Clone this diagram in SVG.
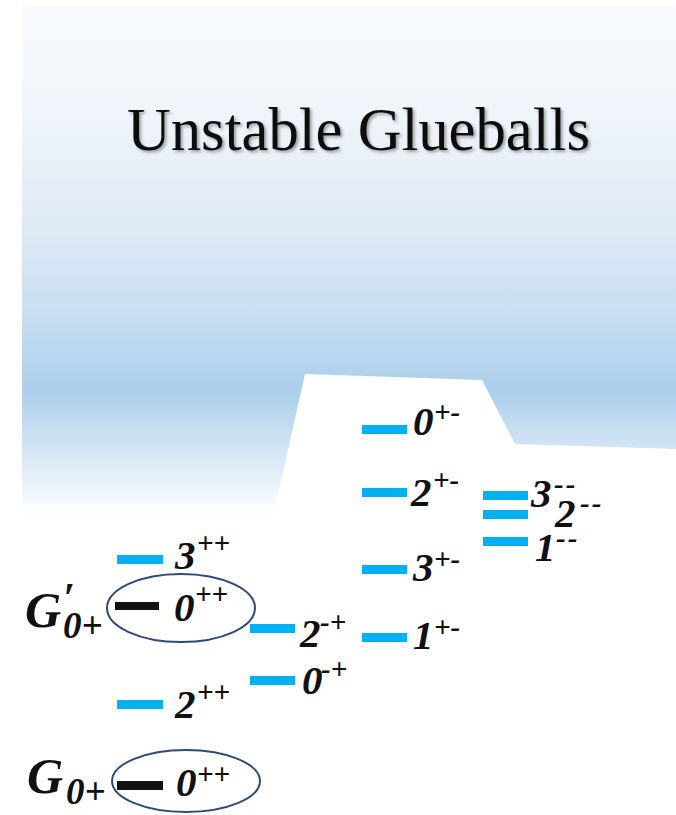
<svg xmlns="http://www.w3.org/2000/svg" width="676" height="815" viewBox="0 0 676 815">
<defs>
<linearGradient id="bg" x1="0" y1="5" x2="0" y2="515" gradientUnits="userSpaceOnUse">
<stop offset="0" stop-color="#f9fbfd"/>
<stop offset="0.2" stop-color="#f1f5fa"/>
<stop offset="0.45" stop-color="#dde9f6"/>
<stop offset="0.62" stop-color="#c6ddf1"/>
<stop offset="0.755" stop-color="#abcfeb"/>
<stop offset="0.88" stop-color="#d6e7f5"/>
<stop offset="1" stop-color="#ffffff"/>
</linearGradient>
<filter id="sh" x="-5%" y="-20%" width="110%" height="150%">
<feDropShadow dx="2" dy="2" stdDeviation="1.5" flood-color="#000" flood-opacity="0.35"/>
</filter>
</defs>
<style>
.bar{fill:#00b0f0}
.blk{fill:#111}
.lbl{font-family:"Liberation Serif","Times New Roman",serif;font-weight:bold;font-style:italic;fill:#111}
.d{font-size:41px}
.s{font-size:29px}
.m{font-size:29px;letter-spacing:2px}
.g{font-size:50px}
.ell{fill:none;stroke:#2f4a7a;stroke-width:2}
</style>
<rect x="0" y="0" width="676" height="815" fill="#fff"/>
<rect x="22" y="5" width="654" height="515" fill="url(#bg)"/>
<polygon points="305,374 482,380 515,444 676,449 676,530 270,530" fill="#fff"/>
<text x="127" y="150" font-family="Liberation Serif,'Times New Roman',serif" font-size="61" fill="#111" textLength="463" lengthAdjust="spacingAndGlyphs" filter="url(#sh)">Unstable Glueballs</text>

<g id="G0p-prime">
<text class="lbl g" x="25" y="627">G</text>
<text class="lbl" x="63" y="612" font-size="42">′</text>
<text class="lbl" x="63" y="638" font-size="37">0+</text>
</g>
<g id="G0p">
<text class="lbl g" x="27" y="793">G</text>
<text class="lbl" x="66" y="804" font-size="37">0+</text>
</g>

<g id="s3pp"><rect class="bar" x="117" y="555" width="46" height="9"/><text class="lbl d" x="175" y="569">3</text><text class="lbl s" x="197" y="553">++</text></g>
<g id="s0pp2"><ellipse class="ell" cx="181" cy="608" rx="74" ry="34"/><rect class="blk" x="115" y="602" width="44" height="8"/><text class="lbl d" x="174" y="621">0</text><text class="lbl s" x="195" y="604">++</text></g>
<g id="s2pp"><rect class="bar" x="117" y="700" width="46" height="9"/><text class="lbl d" x="175" y="718">2</text><text class="lbl s" x="197" y="702">++</text></g>
<g id="s0pp1"><ellipse class="ell" cx="186" cy="781" rx="74" ry="31"/><rect class="blk" x="117" y="781" width="46" height="9"/><text class="lbl d" x="176" y="796">0</text><text class="lbl s" x="197" y="784">++</text></g>

<g id="s2mp"><rect class="bar" x="250" y="624" width="45" height="9"/><text class="lbl d" x="300" y="647">2</text><text class="lbl s" x="320" y="632">-+</text></g>
<g id="s0mp"><rect class="bar" x="250" y="676" width="45" height="9"/><text class="lbl d" x="302" y="694">0</text><text class="lbl s" x="321" y="679">-+</text></g>

<g id="s0pm"><rect class="bar" x="362" y="425" width="45" height="9"/><text class="lbl d" x="413" y="435">0</text><text class="lbl s" x="434" y="422">+-</text></g>
<g id="s2pm"><rect class="bar" x="362" y="488" width="45" height="9"/><text class="lbl d" x="411" y="506">2</text><text class="lbl s" x="433" y="490">+-</text></g>
<g id="s3pm"><rect class="bar" x="362" y="565" width="45" height="9"/><text class="lbl d" x="413" y="581">3</text><text class="lbl s" x="434" y="569">+-</text></g>
<g id="s1pm"><rect class="bar" x="362" y="633" width="45" height="9"/><text class="lbl d" x="413" y="649">1</text><text class="lbl s" x="434" y="637">+-</text></g>

<g id="s3mm"><rect class="bar" x="483" y="491" width="45" height="9"/><text class="lbl d" x="531" y="507">3</text><text class="lbl m" x="554" y="494">--</text></g>
<g id="s2mm"><rect class="bar" x="483" y="510" width="45" height="9"/><text class="lbl d" x="555" y="527">2</text><text class="lbl m" x="580" y="513">--</text></g>
<g id="s1mm"><rect class="bar" x="483" y="537" width="45" height="9"/><text class="lbl d" x="535" y="561">1</text><text class="lbl m" x="556" y="548">--</text></g>
</svg>
